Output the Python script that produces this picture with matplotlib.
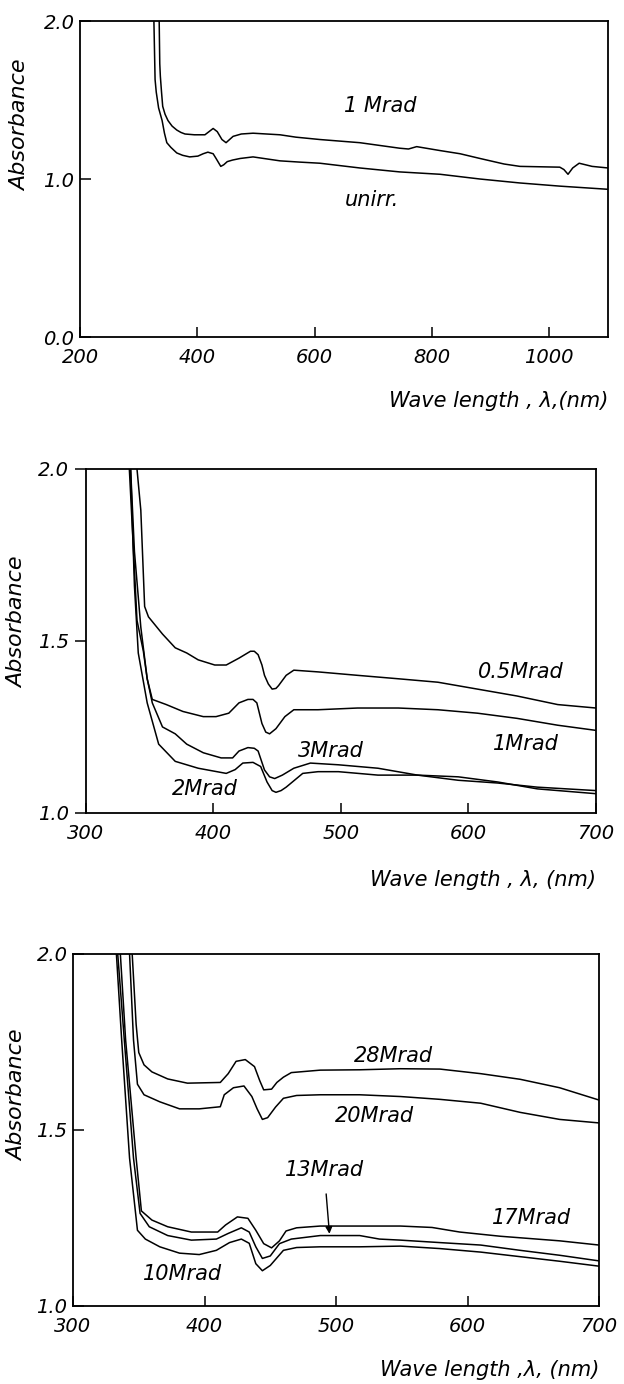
import numpy as np
import matplotlib.pyplot as plt

# panel 1: unirradiated vs 1 Mrad, 200-1100 nm
wl_p1_1M = [335, 336, 337, 339, 341, 345, 350, 357, 365, 372, 379, 395, 413, 420, 427, 434, 442, 449,
            455, 461, 475, 495, 541, 568, 609, 677, 745, 760, 774, 790, 814, 848, 882, 923, 950,
            1018, 1025, 1032, 1040, 1051, 1073, 1100]
ab_p1_1M = [2.0, 1.73, 1.65, 1.55, 1.46, 1.41, 1.37, 1.335, 1.31, 1.295, 1.285, 1.28, 1.28, 1.30, 1.32,
            1.30, 1.25, 1.23, 1.25, 1.27, 1.285, 1.29, 1.28, 1.265, 1.25, 1.23, 1.195, 1.19, 1.205,
            1.195, 1.18, 1.16, 1.13, 1.095, 1.08, 1.075, 1.06, 1.03, 1.07, 1.10, 1.08, 1.07]
wl_p1_un = [326, 328, 330, 334, 340, 344, 348, 355, 365, 375, 387, 401, 410, 418, 427, 432, 440,
            445, 451, 460, 473, 495, 541, 575, 609, 677, 745, 814, 882, 950, 1018, 1100]
ab_p1_un = [2.0, 1.63, 1.55, 1.45, 1.37, 1.29, 1.23, 1.20, 1.165, 1.15, 1.14, 1.145, 1.16, 1.17, 1.16,
            1.13, 1.08, 1.09, 1.11, 1.12, 1.13, 1.14, 1.115, 1.107, 1.10, 1.07, 1.045, 1.03, 1.0,
            0.975, 0.955, 0.935]

# panel 2: 0.5, 1, 2, 3 Mrad
wl_p2_05 = [340, 343, 346, 349, 360, 370, 379, 388, 401, 410, 420, 429, 432, 435, 438, 440, 443, 446,
            449, 451, 457, 463, 482, 513, 545, 576, 607, 638, 670, 700]
ab_p2_05 = [2.0, 1.88, 1.60, 1.57, 1.52, 1.48, 1.465, 1.445, 1.43, 1.43, 1.45, 1.47, 1.47, 1.46, 1.43,
            1.40, 1.375, 1.36, 1.362, 1.37, 1.40, 1.415, 1.41, 1.40, 1.39, 1.38, 1.36, 1.34, 1.315,
            1.305]
wl_p2_1 = [335, 338, 343, 348, 352, 363, 376, 392, 402, 412, 420, 427, 431, 434, 438, 441, 444, 449,
           456, 463, 482, 513, 545, 576, 607, 638, 670, 700]
ab_p2_1 = [2.0, 1.76, 1.54, 1.39, 1.33, 1.315, 1.295, 1.28, 1.28, 1.29, 1.32, 1.33, 1.33, 1.32, 1.26,
           1.235, 1.23, 1.245, 1.28, 1.30, 1.30, 1.305, 1.305, 1.30, 1.29, 1.275, 1.255, 1.24]
wl_p2_3 = [334, 337, 340, 345, 348, 352, 360, 370, 379, 392, 406, 415, 420, 427, 432, 435, 440, 444,
           448, 454, 463, 476, 498, 529, 560, 592, 623, 654, 700]
ab_p2_3 = [2.0, 1.78, 1.56, 1.47, 1.39, 1.32, 1.25, 1.23, 1.20, 1.175, 1.16, 1.16, 1.18, 1.19, 1.188,
           1.18, 1.125, 1.105, 1.10, 1.11, 1.13, 1.145, 1.14, 1.13, 1.11, 1.095, 1.087, 1.075, 1.065]
wl_p2_2 = [335, 338, 341, 348, 357, 370, 388, 410, 417, 423, 431, 437, 442, 446, 449, 453, 457, 470,
           482, 498, 529, 560, 592, 623, 654, 700]
ab_p2_2 = [2.0, 1.66, 1.465, 1.32, 1.20, 1.15, 1.13, 1.115, 1.126, 1.145, 1.147, 1.135, 1.09, 1.065,
           1.06, 1.065, 1.075, 1.115, 1.12, 1.12, 1.11, 1.11, 1.105, 1.09, 1.07, 1.056]

# panel 3: 10, 13, 17, 20, 28 Mrad
wl_p3_28 = [345, 348, 350, 354, 360, 372, 387, 412, 418, 424, 431, 438, 442, 445, 451, 455, 460, 466,
            488, 518, 549, 579, 610, 640, 670, 700]
ab_p3_28 = [2.0, 1.80, 1.72, 1.685, 1.665, 1.645, 1.633, 1.635, 1.66, 1.695, 1.70, 1.68, 1.64, 1.614,
            1.616, 1.635, 1.65, 1.663, 1.67, 1.671, 1.674, 1.673, 1.66, 1.644, 1.62, 1.585]
wl_p3_20 = [343, 346, 349, 354, 366, 381, 396, 412, 415, 422, 430, 436, 440, 444, 448, 454, 460, 470,
            488, 518, 549, 579, 610, 640, 670, 700]
ab_p3_20 = [2.0, 1.756, 1.63, 1.60, 1.58, 1.56, 1.56, 1.566, 1.60, 1.62, 1.625, 1.595, 1.56, 1.53,
            1.535, 1.565, 1.59, 1.598, 1.60, 1.60, 1.595, 1.587, 1.576, 1.55, 1.53, 1.52]
wl_p3_17 = [336, 340, 348, 352, 360, 372, 390, 410, 416, 425, 433, 439, 445, 451, 457, 462, 470,
            488, 518, 549, 573, 594, 625, 670, 700]
ab_p3_17 = [2.0, 1.756, 1.42, 1.27, 1.244, 1.225, 1.21, 1.21, 1.23, 1.253, 1.249, 1.215, 1.177, 1.165,
            1.185, 1.213, 1.222, 1.227, 1.227, 1.227, 1.223, 1.21, 1.198, 1.185, 1.173]
wl_p3_13 = [334, 339, 346, 351, 358, 372, 390, 409, 418, 428, 434, 439, 444, 450, 457, 466, 488,
            518, 533, 549, 579, 610, 640, 670, 700]
ab_p3_13 = [2.0, 1.756, 1.42, 1.263, 1.225, 1.20, 1.187, 1.19, 1.206, 1.222, 1.21, 1.168, 1.135, 1.142,
            1.177, 1.19, 1.20, 1.20, 1.19, 1.187, 1.18, 1.173, 1.158, 1.144, 1.128]
wl_p3_10 = [333, 337, 343, 349, 355, 366, 381, 396, 409, 419, 428, 434, 439, 444, 450, 460, 470,
            488, 518, 549, 579, 610, 640, 670, 700]
ab_p3_10 = [2.0, 1.756, 1.42, 1.215, 1.19, 1.168, 1.15, 1.146, 1.158, 1.18, 1.19, 1.178, 1.12, 1.10,
            1.115, 1.158, 1.166, 1.168, 1.168, 1.17, 1.163, 1.153, 1.14, 1.127, 1.113]

plt.rcParams['font.family'] = ['DejaVu Sans']
plt.rcParams['font.style'] = 'italic'

fig = plt.figure(figsize=(6.24, 13.84), dpi=100)


def setup(ax, xlim, xticks, yticks, ylim, ydir, ylab_y, ylab_x, xlab, xlab_y):
    ax.set_xlim(*xlim)
    ax.set_ylim(*ylim)
    ax.set_xticks(xticks)
    ax.set_yticks(yticks)
    ax.set_yticklabels(['%.1f' % v for v in yticks])
    ax.tick_params(axis='x', direction='in', length=7, width=1.1, labelsize=14, pad=8)
    ax.tick_params(axis='y', direction=ydir, length=8, width=1.1, labelsize=14, pad=4)
    for s in ax.spines.values():
        s.set_linewidth(1.3)
    ax.set_ylabel('Absorbance', fontsize=16)
    ax.yaxis.set_label_coords(ylab_x, ylab_y)
    ax.set_xlabel(xlab, fontsize=15, ha='right')
    ax.xaxis.set_label_coords(1.0, xlab_y)


kw = dict(color='black', lw=1.1)

ax1 = fig.add_axes([0.1282, 0.7565, 0.846, 0.2283])
ax1.plot(wl_p1_1M, ab_p1_1M, **kw)
ax1.plot(wl_p1_un, ab_p1_un, **kw)
setup(ax1, (200, 1100), [200, 400, 600, 800, 1000], [0.0, 1.0, 2.0], (0, 2), 'in',
      0.67, -0.095, 'Wave length , λ,(nm)', -0.17)
ax1.text(712, 1.46, '1 Mrad', fontsize=15, ha='center', va='center')
ax1.text(698, 0.87, 'unirr.', fontsize=15, ha='center', va='center')

ax2 = fig.add_axes([0.1378, 0.4126, 0.8173, 0.2486])
for w, a in [(wl_p2_05, ab_p2_05), (wl_p2_1, ab_p2_1), (wl_p2_3, ab_p2_3), (wl_p2_2, ab_p2_2)]:
    ax2.plot(w, a, **kw)
setup(ax2, (300, 700), [300, 400, 500, 600, 700], [1.0, 1.5, 2.0], (1, 2), 'out',
      0.555, -0.115, 'Wave length , λ, (nm)', -0.165)
ax2.text(641, 1.41, '0.5Mrad', fontsize=15, ha='center', va='center')
ax2.text(645, 1.20, '1Mrad', fontsize=15, ha='center', va='center')
ax2.text(492, 1.18, '3Mrad', fontsize=15, ha='center', va='center')
ax2.text(393, 1.07, '2Mrad', fontsize=15, ha='center', va='center')

ax3 = fig.add_axes([0.117, 0.0564, 0.843, 0.2543])
for w, a in [(wl_p3_28, ab_p3_28), (wl_p3_20, ab_p3_20), (wl_p3_17, ab_p3_17),
             (wl_p3_13, ab_p3_13), (wl_p3_10, ab_p3_10)]:
    ax3.plot(w, a, **kw)
setup(ax3, (300, 700), [300, 400, 500, 600, 700], [1.0, 1.5, 2.0], (1, 2), 'in',
      0.60, -0.087, 'Wave length ,λ, (nm)', -0.155)
ax3.text(544, 1.71, '28Mrad', fontsize=15, ha='center', va='center')
ax3.text(529, 1.54, '20Mrad', fontsize=15, ha='center', va='center')
ax3.text(649, 1.25, '17Mrad', fontsize=15, ha='center', va='center')
ax3.text(383, 1.09, '10Mrad', fontsize=15, ha='center', va='center')
ax3.annotate('13Mrad', xy=(495, 1.205), xytext=(491, 1.386), fontsize=15,
             ha='center', va='center',
             arrowprops=dict(arrowstyle='-|>', color='black', lw=1.0, shrinkA=8, shrinkB=0,
                             mutation_scale=10))

fig.savefig('out.png', dpi=100)
